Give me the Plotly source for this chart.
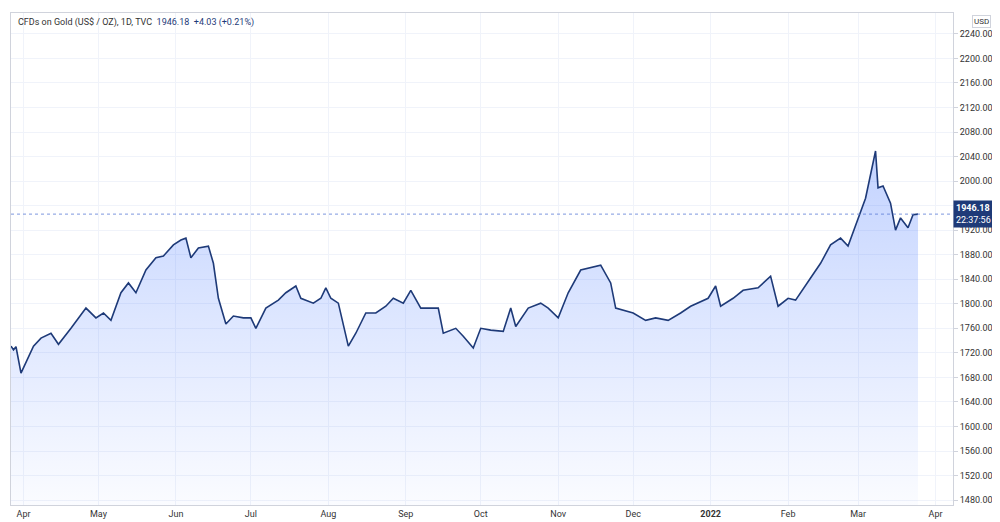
import plotly.graph_objects as go

dates = ["2021-03-27", "2021-03-28", "2021-03-29", "2021-03-31", "2021-04-05", "2021-04-08", "2021-04-12",
         "2021-04-15", "2021-04-20", "2021-04-23", "2021-04-26", "2021-04-30", "2021-05-03", "2021-05-06",
         "2021-05-08", "2021-05-10", "2021-05-13", "2021-05-16", "2021-05-20", "2021-05-24", "2021-05-27",
         "2021-05-31", "2021-06-03", "2021-06-05", "2021-06-07", "2021-06-10", "2021-06-14", "2021-06-16",
         "2021-06-18", "2021-06-21", "2021-06-24", "2021-06-28", "2021-07-01", "2021-07-03", "2021-07-07",
         "2021-07-12", "2021-07-15", "2021-07-19", "2021-07-21", "2021-07-26", "2021-07-29", "2021-07-31",
         "2021-08-02", "2021-08-05", "2021-08-09", "2021-08-12", "2021-08-16", "2021-08-20", "2021-08-24",
         "2021-08-27", "2021-08-31", "2021-09-03", "2021-09-07", "2021-09-10", "2021-09-14", "2021-09-16",
         "2021-09-21", "2021-09-24", "2021-09-28", "2021-10-01", "2021-10-05", "2021-10-10", "2021-10-13",
         "2021-10-15", "2021-10-20", "2021-10-25", "2021-10-28", "2021-11-01", "2021-11-05", "2021-11-10",
         "2021-11-15", "2021-11-18", "2021-11-22", "2021-11-24", "2021-12-01", "2021-12-06", "2021-12-10",
         "2021-12-15", "2021-12-20", "2021-12-24", "2021-12-31", "2022-01-03", "2022-01-05", "2022-01-10",
         "2022-01-14", "2022-01-20", "2022-01-25", "2022-01-28", "2022-02-01", "2022-02-04", "2022-02-10",
         "2022-02-14", "2022-02-18", "2022-02-22", "2022-02-25", "2022-03-01", "2022-03-04", "2022-03-08",
         "2022-03-09", "2022-03-11", "2022-03-14", "2022-03-16", "2022-03-18", "2022-03-21", "2022-03-23",
         "2022-03-25"]
prices = [1731, 1725, 1730, 1687, 1731, 1744, 1752,
          1734, 1760, 1777, 1793, 1777, 1785, 1773,
          1796, 1818, 1834, 1818, 1855, 1875, 1878,
          1896, 1904, 1907, 1875, 1891, 1894, 1866,
          1809, 1767, 1780, 1777, 1777, 1760, 1793,
          1806, 1818, 1829, 1809, 1801, 1809, 1826,
          1809, 1801, 1731, 1752, 1785, 1785, 1796,
          1809, 1801, 1822, 1793, 1793, 1793, 1752,
          1760, 1747, 1728, 1760, 1757, 1755, 1793,
          1763, 1793, 1801, 1793, 1777, 1818, 1855,
          1860, 1863, 1834, 1793, 1785, 1773, 1777,
          1773, 1785, 1796, 1809, 1829, 1796, 1809,
          1822, 1826, 1845, 1796, 1809, 1806, 1842,
          1866, 1896, 1907, 1894, 1940, 1972, 2049,
          1989, 1992, 1964, 1920, 1940, 1924, 1945,
          1946.18]
last_price = 1946.18
y_ticks = list(range(1480, 2241, 40))
x_ticks = ["2021-04-01", "2021-05-01", "2021-06-01", "2021-07-01", "2021-08-01", "2021-09-01",
           "2021-10-01", "2021-11-01", "2021-12-01", "2022-01-01", "2022-02-01", "2022-03-01", "2022-04-01"]
x_labels = ["Apr", "May", "Jun", "Jul", "Aug", "Sep", "Oct", "Nov", "Dec", "<b>2022</b>", "Feb", "Mar", "Apr"]

fig = go.Figure()
fig.add_trace(go.Scatter(
    x=dates, y=prices, mode="lines",
    line=dict(color="#1e3a78", width=1.6),
    fill="tozeroy",
    fillgradient=dict(type="vertical", start=1470, stop=2050,
                      colorscale=[[0, "rgba(41,98,255,0.02)"], [1, "rgba(41,98,255,0.28)"]]),
    hoverinfo="skip",
))
fig.add_hline(y=last_price, line=dict(color="#5b7bd5", width=0.8, dash="dot"))

fig.update_layout(
    width=1000, height=522,
    margin=dict(l=3, r=55, t=5, b=25),
    plot_bgcolor="white", paper_bgcolor="white",
    showlegend=False,
    font=dict(family="Roboto", size=9, color="#333"),
    xaxis=dict(range=["2021-03-27", "2022-04-08"], tickvals=x_ticks, ticktext=x_labels,
               showgrid=True, gridcolor="#f0f3fa", showline=True, linecolor="#d0d3dc",
               ticks="", mirror=True),
    yaxis=dict(range=[1472, 2274], side="right", tickvals=y_ticks,
               ticktext=[f"{v:.2f}" for v in y_ticks],
               showgrid=True, gridcolor="#f0f3fa", showline=True, linecolor="#d0d3dc",
               ticks="outside", ticklen=4, tickcolor="#d0d3dc", mirror=True),
)
fig.add_annotation(xref="paper", yref="paper", x=0.005, y=0.995, xanchor="left", yanchor="top",
                   showarrow=False, align="left",
                   text="CFDs on Gold (US$ / OZ), 1D, TVC  <span style='color:#1e3a78'>1946.18  +4.03 (+0.21%)</span>",
                   font=dict(size=9, color="#333"))
fig.add_annotation(xref="paper", yref="paper", x=1.03, y=0.995, xanchor="center", yanchor="top",
                   showarrow=False, text="USD", font=dict(size=8, color="#333"),
                   bordercolor="#d0d3dc", borderwidth=1, borderpad=1, bgcolor="white")
fig.add_annotation(xref="paper", yref="y", x=1.0, y=last_price, xanchor="left", yanchor="middle",
                   showarrow=False, text="<b>1946.18</b><br>22:37:56", align="left",
                   font=dict(size=9, color="white"), bgcolor="#1e3a78", borderpad=2)

fig.write_html("out.html")
